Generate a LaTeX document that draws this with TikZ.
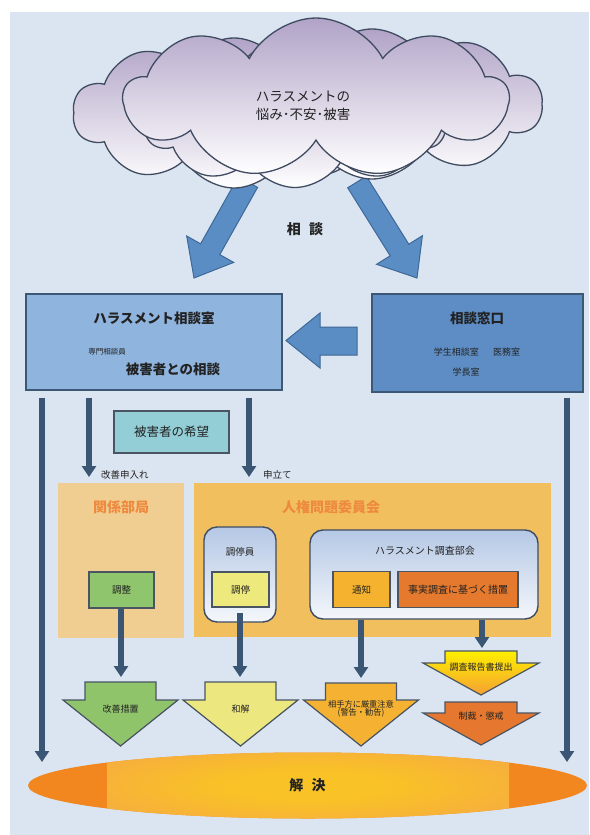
\documentclass[tikz,border=0pt]{standalone}
\usepackage{fontspec}
\setmainfont{Noto Sans CJK JP}
\usetikzlibrary{shapes.symbols,shapes.geometric,arrows.meta}
\definecolor{bg}{HTML}{DBE5F1}
\definecolor{cloudtop}{HTML}{B1A3C7}
\definecolor{cloudline}{HTML}{3F4B60}
\definecolor{bigarrow}{HTML}{5B8DC5}
\definecolor{bigarrowline}{HTML}{3E6896}
\definecolor{lboxfill}{HTML}{8FB4DE}
\definecolor{rboxfill}{HTML}{5D8DC4}
\definecolor{boxline}{HTML}{3C5875}
\definecolor{connc}{HTML}{3B5675}
\definecolor{sline}{HTML}{4A5564}
\definecolor{kibou}{HTML}{93CED6}
\definecolor{pan1}{HTML}{F0CD90}
\definecolor{pan2}{HTML}{F2BF5E}
\definecolor{ttlorange}{HTML}{EE8A3E}
\definecolor{roundtop}{HTML}{B5C8E5}
\definecolor{roundbot}{HTML}{F4F7FB}
\definecolor{rline}{HTML}{3E4D66}
\definecolor{chotei}{HTML}{EEE97C}
\definecolor{tsuchi}{HTML}{F5B22E}
\definecolor{jijitsu}{HTML}{E5792D}
\definecolor{chosei}{HTML}{8FC56C}
\definecolor{kaizen}{HTML}{8FC46B}
\definecolor{wakai}{HTML}{ECE77E}
\definecolor{aite}{HTML}{F5B232}
\definecolor{cyellow}{HTML}{FFF000}
\definecolor{corange}{HTML}{F4A033}
\definecolor{seisai}{HTML}{E5782E}
\definecolor{ecenter}{HTML}{F9C226}
\definecolor{emid}{HTML}{F5A548}
\definecolor{eouter}{HTML}{F2871F}
\definecolor{txt}{HTML}{222222}
\pgfdeclareradialshading{solveshade}{\pgfpoint{0bp}{0bp}}{color(0bp)=(ecenter); color(10bp)=(ecenter); color(40bp)=(emid); color(50bp)=(emid)}
\newcommand{\fsz}[1]{\fontsize{#1}{#1}\selectfont}
\newcommand{\dnarw}[7]{\draw[dnline,#1] (#2-#3,#5) -- (#2+#3,#5) -- (#2+#3,#6) -- (#2+#4,#6) -- (#2,#7) -- (#2-#4,#6) -- (#2-#3,#6) -- cycle;}
\begin{document}
\begin{tikzpicture}[x=1pt,y=-1pt,
  cloudsh/.style={cloud, cloud puffs=10, cloud puff arc=120, cloud ignores aspect, draw=cloudline, line width=1.3pt, top color=cloudtop, bottom color=white, inner sep=0pt},
  bigbox/.style={rectangle, draw=boxline, line width=1.2pt, inner sep=0pt},
  sbox/.style={rectangle, draw=sline, line width=1.6pt, inner sep=0pt, text=txt},
  rbox/.style={rectangle, draw=rline, line width=1.4pt, rounded corners=13pt, top color=roundtop, bottom color=roundbot, inner sep=0pt},
  conn/.style={draw=connc, line width=5.5pt, -{Triangle[width=14pt,length=11pt]}},
  dnline/.style={draw=sline, line width=1.2pt, line join=miter},
  blk/.style={draw=bigarrowline, fill=bigarrow, line width=1pt, line join=miter},
  lbl/.style={text=txt, inner sep=0pt},
  ttl/.style={text=ttlorange, inner sep=0pt, font=\fsz{14}\bfseries}
]
\useasboundingbox (0,0) rectangle (589,835);
\fill[white] (0,0) rectangle (589,835);
\fill[bg] (10,12) rectangle (589,835);

% big arrows from the cloud
\path[blk] (238.4,176.6) -- (200.6,243.8) -- (186.7,236) -- (194,278) -- (233.7,262.4) -- (219.8,254.6) -- (257.6,187.4) -- cycle;
\path[blk] (366.3,176.2) -- (408.8,244.2) -- (422.4,235.7) -- (417,278) -- (376.6,264.3) -- (390.2,255.8) -- (347.7,187.8) -- cycle;

% cloud
\node[cloudsh, minimum width=322pt, minimum height=150pt] (cb1) at (234,113) {};
\node[cloudsh, minimum width=340pt, minimum height=150pt] (cb2) at (372,104) {};
\node[cloudsh, minimum width=300pt, minimum height=125pt] (cb3) at (295,125) {};
\node[cloudsh, cloud puffs=9, cloud puff arc=125, minimum width=384pt, minimum height=160pt] (cf) at (316,98) {};
\node[lbl, align=center, font=\fontsize{13.5}{18}\selectfont] (ctext) at (303,106) {ハラスメントの\\悩み･不安･被害};
\node[lbl, font=\fsz{14}\bfseries] (sodan) at (305,229) {相\hspace{0.6em}談};

% top boxes
\node[bigbox, fill=lboxfill, minimum width=256pt, minimum height=96pt] (lbox) at (154,342) {};
\node[bigbox, fill=rboxfill, minimum width=211pt, minimum height=98pt] (rbox) at (477.5,343) {};
\node[lbl, font=\fsz{13.5}\bfseries] (lttl) at (154,318) {ハラスメント相談室};
\node[lbl, font=\fsz{7.5}] (senmon) at (107,352) {専門相談員};
\node[lbl, font=\fsz{13.5}\bfseries] (higai) at (173,369) {被害者との相談};
\node[lbl, font=\fsz{13.5}\bfseries] (rttl) at (477,318) {相談窓口};
\node[lbl, font=\fsz{9}] (gakusei) at (477,352) {学生相談室\hspace{1.6em}医務室};
\node[lbl, font=\fsz{9}] (gakucho) at (466,372) {学長室};
\path[blk] (357,327) -- (320,327) -- (320,313) -- (286,340.5) -- (320,368) -- (320,355) -- (357,355) -- cycle;

\node[sbox, fill=kibou, minimum width=115pt, minimum height=42pt, font=\fsz{12.5}] (kibou) at (171.5,432) {被害者の希望};

% panels
\node[rectangle, fill=pan1, minimum width=126pt, minimum height=155pt] (pkankei) at (121,560.5) {};
\node[rectangle, fill=pan2, minimum width=357pt, minimum height=154pt] (pjinken) at (372.5,560) {};
\node[ttl] (tkankei) at (121,507) {関係部局};
\node[ttl] (tjinken) at (331,507) {人権問題委員会};

\node[rbox, minimum width=72pt, minimum height=95pt] (choteiin) at (240,574.5) {};
\node[lbl, font=\fsz{9.5}] at (240,552) {調停員};
\node[rbox, minimum width=228pt, minimum height=89pt] (bukai) at (424,574.5) {};
\node[lbl, font=\fsz{10}] at (425,551) {ハラスメント調査部会};

\node[sbox, fill=chosei, minimum width=65pt, minimum height=36pt, font=\fsz{9.5}] (chosei) at (121.5,590) {調整};
\node[sbox, fill=chotei, minimum width=57pt, minimum height=35pt, font=\fsz{9.5}] (chotei) at (240.5,589.5) {調停};
\node[sbox, fill=tsuchi, minimum width=57pt, minimum height=36pt, font=\fsz{9.5}] (tsuchi) at (361.5,589.5) {通知};
\node[sbox, fill=jijitsu, minimum width=120pt, minimum height=36pt, font=\fsz{10}] (jijitsu) at (458,589.5) {事実調査に基づく措置};

% down block arrows
\dnarw{fill=kaizen}{120.5}{35.5}{57.5}{682}{700}{746}
\dnarw{fill=wakai}{240.5}{35.5}{57.5}{682}{700}{746}
\dnarw{fill=aite}{361}{35.5}{57.5}{683}{700}{746}
\dnarw{top color=cyellow, bottom color=corange}{481}{36}{58}{651}{663}{695}
\dnarw{fill=seisai}{481}{36}{58}{702}{713}{745}
\node[lbl, font=\fsz{9}] (kaizensochi) at (120.5,709) {改善措置};
\node[lbl, font=\fsz{9}] (wakaitxt) at (240.5,709) {和解};
\node[lbl, font=\fsz{8.2}, align=center] (aitetxt) at (361,708.5) {相手方に厳重注意\\(警告・勧告)};
\node[lbl, font=\fsz{9}] (chosatxt) at (481,667) {調査報告書提出};
\node[lbl, font=\fsz{9}] (seisaitxt) at (481,716) {制裁・懲戒};

% solution ellipse
\node[ellipse, minimum width=559pt, minimum height=66pt, inner sep=0pt, fill=eouter] (solve) at (307.5,785.5) {};
\begin{scope}
  \clip (solve.center) ellipse [x radius=279.5pt, y radius=33pt];
  \shade[shading=solveshade] (107,750) rectangle (509,821);
\end{scope}
\node[lbl, font=\fsz{14}\bfseries] at (solve.center) {解\hspace{0.6em}決};

% connectors
\coordinate (e1) at (42,762);
\coordinate (e2) at (567,762);
\coordinate (kp) at (89,477);
\coordinate (mt) at (249,477);
\coordinate (ka) at (121,682);
\coordinate (wa) at (240,682);
\coordinate (ai) at (361,683);
\coordinate (ch) at (482,651);
\draw[conn, shorten <=7pt] (lbox.south -| e1) -- (e1);
\draw[conn, shorten <=7pt] (lbox.south -| kp) -- (kp);
\draw[conn, shorten <=7pt] (lbox.south -| mt) -- (mt);
\draw[conn, shorten <=5pt] (rbox.south -| e2) -- (e2);
\node[lbl, font=\fsz{9.5}, anchor=west] at (101,475) {改善申入れ};
\node[lbl, font=\fsz{9.5}, anchor=west] at (263,475) {申立て};
\draw[conn, shorten >=5pt] (chosei.south -| ka) -- (ka);
\draw[conn, shorten <=5pt, shorten >=5pt] (chotei.south -| wa) -- (wa);
\draw[conn, shorten >=5pt] (bukai.south -| ai) -- (ai);
\draw[conn, shorten >=3pt] (bukai.south -| ch) -- (ch);
\end{tikzpicture}
\end{document}
